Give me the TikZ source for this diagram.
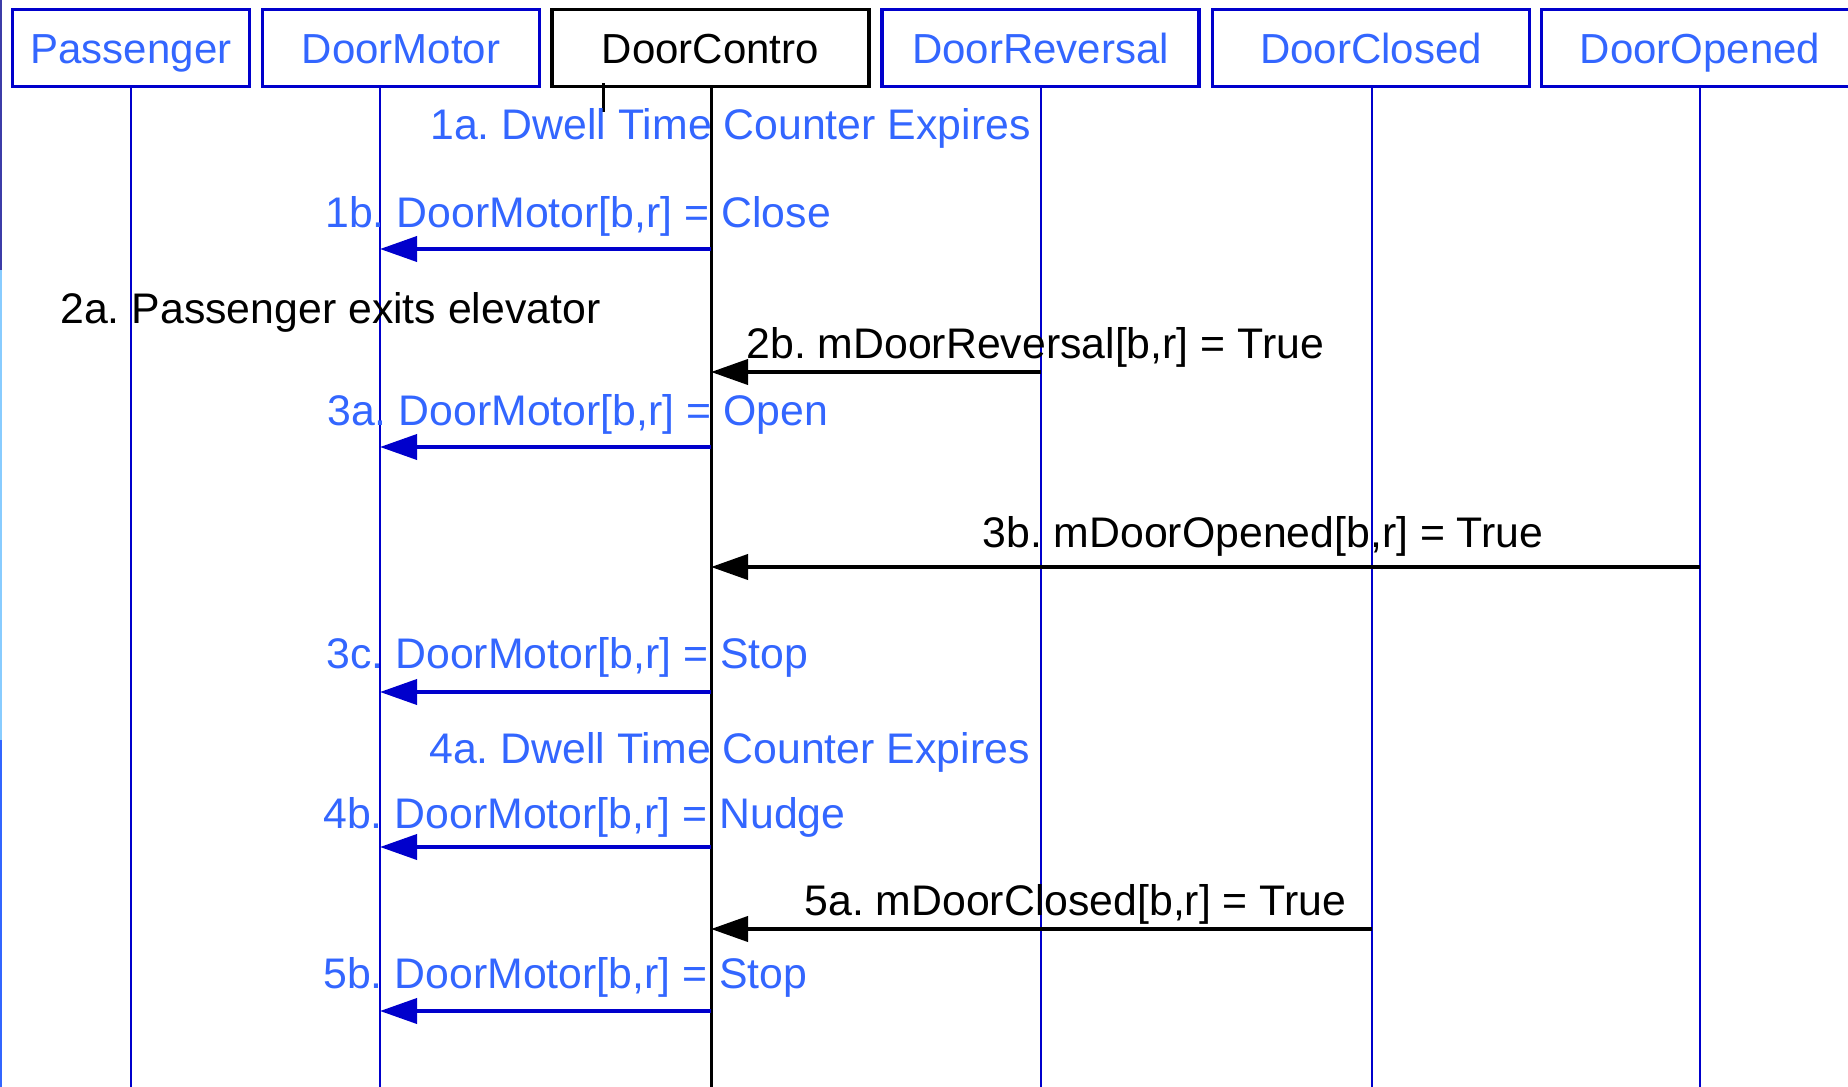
\documentclass[tikz,border=0pt]{standalone}
\usepackage{fontspec}
\setmainfont{Liberation Sans}
\usetikzlibrary{arrows.meta}
\definecolor{lineblue}{RGB}{0,0,204}
\definecolor{textblue}{RGB}{51,102,255}
\definecolor{edgedark}{RGB}{60,60,168}
\definecolor{edgelight}{RGB}{136,204,255}
\frenchspacing

\begin{document}
\begin{tikzpicture}[x=0.5pt,y=-0.5pt,
    obj/.style={draw=lineblue,line width=1.8pt,fill=white,inner sep=0pt,minimum height=38.5pt,
      text height=15pt,text depth=0pt,text=textblue,font=\fontsize{21}{25}\selectfont},
    life/.style={lineblue,line width=1.25pt},
    call/.style={lineblue,line width=1.9pt,-{Triangle[length=18.5pt,width=12.5pt]}},
    signal/.style={black,line width=2pt,-{Triangle[length=18.5pt,width=12.5pt]}},
    step label/.style={anchor=base west,inner sep=0pt,text=textblue,font=\fontsize{21.4}{25}\selectfont}]
    \useasboundingbox (0,0) rectangle (1848,1087);
    \clip (0,0) rectangle (1848,1087);
    \fill[edgedark] (0,0) rectangle (2,270);
    \fill[edgelight] (0,270) rectangle (2,740);
    \fill[textblue] (0,740) rectangle (2,1087);

    \foreach \n/\x in {pas/131,mot/380,ctl/711,rev/1041,cls/1372,opn/1700}
        \coordinate (\n) at (\x,88);
    \coordinate (bottom) at (0,1087);
    \foreach \n in {pas,mot,rev,cls,opn}
        \draw[life] (\n) -- (\n |- bottom);
    \draw[black,line width=1.5pt] (ctl) -- (ctl |- bottom);

    \node[obj,minimum width=118.5pt] (Passenger) at (131,48) {Passenger};
    \node[obj,minimum width=138.5pt] (DoorMotor) at (401,48) {DoorMotor};
    \node[obj,minimum width=158.5pt,draw=black,text=black] (DoorContro) at (710.5,48) {DoorContro};
    \node[obj,minimum width=158.5pt] (DoorReversal) at (1040.5,48) {DoorReversal};
    \node[obj,minimum width=158.5pt] (DoorClosed) at (1371,48) {DoorClosed};
    \node[obj,minimum width=158.5pt] (DoorOpened) at (1700,48) {DoorOpened};
    \draw[black,line width=1.5pt] (603,83) -- (603,112);

    \node[step label] (l1a) at (430,139) {1a. Dwell Time Counter Expires};
    \node[step label] (l1b) at (325,227) {1b. DoorMotor[b,r] = Close};
    \draw[call] (ctl |- 0,249) -- (mot |- 0,249);
    \node[step label,text=black] (l2a) at (60,323) {2a. Passenger exits elevator};
    \node[step label,text=black] (l2b) at (746,358) {2b. mDoorReversal[b,r] = True};
    \draw[signal] (rev |- 0,372) -- (ctl |- 0,372);
    \node[step label] (l3a) at (327,425) {3a. DoorMotor[b,r] = Open};
    \draw[call] (ctl |- 0,447) -- (mot |- 0,447);
    \node[step label,text=black] (l3b) at (982,547) {3b. mDoorOpened[b,r] = True};
    \draw[signal] (opn |- 0,567) -- (ctl |- 0,567);
    \node[step label] (l3c) at (326,668) {3c. DoorMotor[b,r] = Stop};
    \draw[call] (ctl |- 0,692) -- (mot |- 0,692);
    \node[step label] (l4a) at (429,763) {4a. Dwell Time Counter Expires};
    \node[step label] (l4b) at (323,828) {4b. DoorMotor[b,r] = Nudge};
    \draw[call] (ctl |- 0,847) -- (mot |- 0,847);
    \node[step label,text=black] (l5a) at (804,915) {5a. mDoorClosed[b,r] = True};
    \draw[signal] (cls |- 0,929) -- (ctl |- 0,929);
    \node[step label] (l5b) at (323,988) {5b. DoorMotor[b,r] = Stop};
    \draw[call] (ctl |- 0,1011) -- (mot |- 0,1011);
\end{tikzpicture}
\end{document}
